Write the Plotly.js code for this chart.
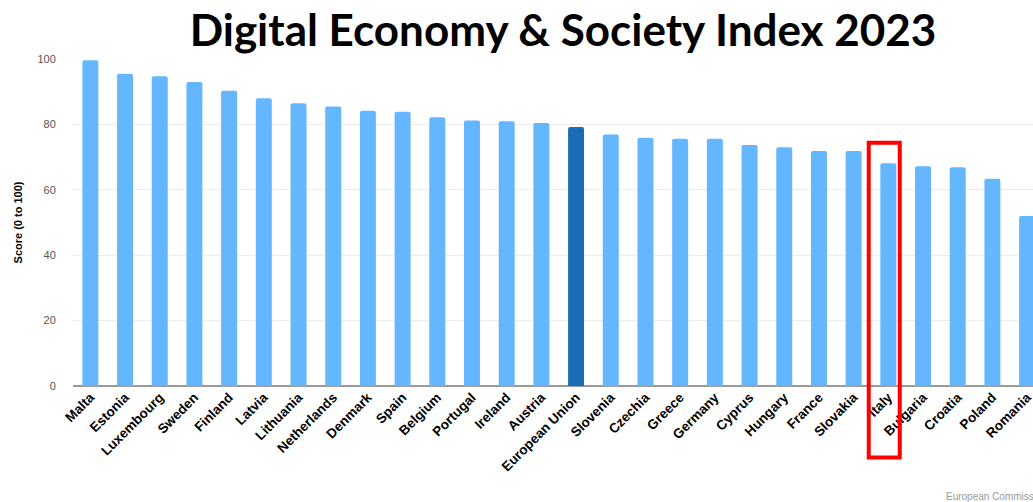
<!DOCTYPE html>
<html>
<head>
<meta charset="utf-8">
<script src="https://cdn.plot.ly/plotly-3.0.1.min.js"></script>
<style>html,body{margin:0;padding:0;background:#fff;}#chart{width:1033px;height:502px;}</style>
</head>
<body>
<div id="chart"></div>
<script>
const countries = ["Malta","Estonia","Luxembourg","Sweden","Finland","Latvia","Lithuania","Netherlands","Denmark","Spain","Belgium","Portugal","Ireland","Austria","European Union","Slovenia","Czechia","Greece","Germany","Cyprus","Hungary","France","Slovakia","Italy","Bulgaria","Croatia","Poland","Romania"];
const scores = [99.6,95.5,94.7,93.0,90.3,88.0,86.5,85.5,84.2,83.9,82.2,81.2,81.0,80.4,79.2,76.9,75.9,75.6,75.6,73.7,73.0,71.9,71.9,68.1,67.2,66.9,63.4,52.0];
const yTicks = [0,20,40,60,80,100];
const highlight = "European Union";
const titleText = "Digital Economy & Society Index 2023";
const yTitle = "Score (0 to 100)";
const sourceText = "European Commission";

const colors = countries.map(c => c === highlight ? "#1a6db4" : "#64b6fe");

const trace = {
  type: "bar",
  x: countries,
  y: scores,
  marker: {color: colors, line: {width: 0}},
  hoverinfo: "x+y"
};

const layout = {
  width: 1033, height: 502,
  margin: {l: 73, r: 0, t: 59, b: 116},
  paper_bgcolor: "#fff", plot_bgcolor: "#fff",
  bargap: 0.54,
  barcornerradius: 2,
  showlegend: false,
  title: {
    text: titleText,
    font: {family: "Lato", size: 44, color: "#000", weight: 700},
    x: 0.545, xanchor: "center", y: 0.94, yanchor: "middle", xref: "container", yref: "container"
  },
  xaxis: {
    type: "category",
    range: [-0.5, 27.17],
    tickangle: -45,
    tickfont: {family: "Liberation Sans", size: 13.5, color: "#000", weight: 700},
    showgrid: false,
    showline: false,
    ticks: "",
    fixedrange: true
  },
  yaxis: {
    range: [0, 100],
    tickvals: yTicks,
    ticktext: yTicks.map(String),
    tickfont: {family: "Liberation Sans", size: 11, color: "#555"},
    ticks: "outside", ticklen: 14, tickcolor: "rgba(0,0,0,0)",
    showgrid: true, gridcolor: "#ececec", gridwidth: 1,
    zeroline: true, zerolinecolor: "#9a9a9a", zerolinewidth: 1.5,
    title: {text: yTitle, font: {family: "Liberation Sans", size: 11, color: "#000", weight: 700}, standoff: 12},
    fixedrange: true
  },
  shapes: [{
    type: "rect", xref: "paper", yref: "paper",
    x0: 0.8289, x1: 0.8612, y0: -0.2185, y1: 0.7442,
    line: {color: "#ff0000", width: 4},
    fillcolor: "rgba(0,0,0,0)", layer: "above"
  }],
  annotations: [{
    text: sourceText, xref: "paper", yref: "paper",
    x: 0.907, y: -0.338, xanchor: "left", yanchor: "middle",
    showarrow: false,
    font: {family: "Liberation Sans", size: 10, color: "#999"}
  }]
};

Plotly.newPlot("chart", [trace], layout, {displayModeBar: false, staticPlot: true});
</script>
</body>
</html>
